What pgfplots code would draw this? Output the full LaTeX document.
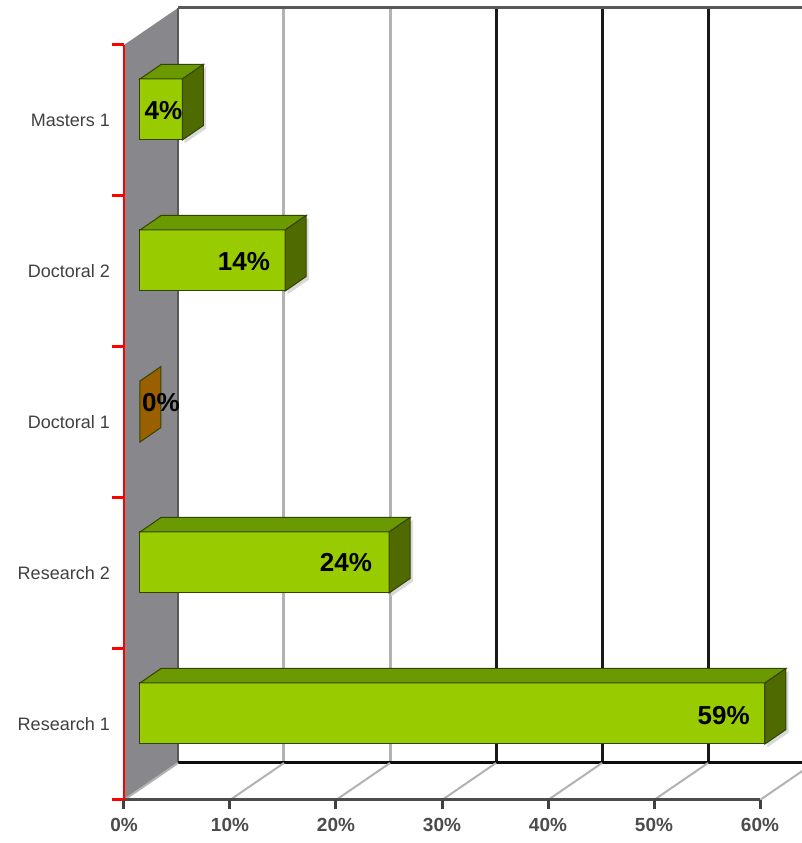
\documentclass[border=0pt]{standalone}
\usepackage{pgfplots}
\pgfplotsset{compat=1.18}
\usepackage{fontspec}
\setmainfont{Liberation Sans}
\definecolor{barfront}{HTML}{99CC00}
\definecolor{bartop}{HTML}{6B9900}
\definecolor{barside}{HTML}{4F6B00}
\definecolor{barline}{HTML}{334400}
\definecolor{barbrown}{HTML}{995F00}
\definecolor{wallgray}{HTML}{88878C}
\pgfdeclareplotmark{nothing}{}
% cuboid={value}{label dx}{label dy}{label}{type}
\pgfplotsset{
  cuboid/.style n args={5}{
    scatter, only marks, mark=nothing,
    scatter/@pre marker code/.code={%
      \pgfmathsetmacro\L{16-10.6*#1}%
      \pgfmathsetmacro\LB{\L+21}%
      \ifnum#5=0
        \fill[gray!30] (18.5pt,-22.5pt) -- (18.5pt,38.5pt) -- (39.5pt,53pt) -- (39.5pt,-8pt) -- cycle;
        \filldraw[fill=barfront, draw=barline, line width=1pt] (\L pt,-19.5pt) rectangle (16pt,41.5pt);
        \filldraw[fill=bartop, draw=barline, line width=1pt] (\L pt,41.5pt) -- (16pt,41.5pt) -- (37pt,56pt) -- (\LB pt,56pt) -- cycle;
        \filldraw[fill=barside, draw=barline, line width=1pt] (16pt,-19.5pt) -- (16pt,41.5pt) -- (37pt,56pt) -- (37pt,-5pt) -- cycle;
      \else
        \filldraw[fill=barbrown, draw=barline, line width=1pt] (16pt,-19.5pt) -- (16pt,41.5pt) -- (37pt,56pt) -- (37pt,-5pt) -- cycle;
      \fi
      \node[anchor=east, inner sep=0pt, font=\fontsize{26}{26}\selectfont\bfseries, text=black] at (#2pt,#3pt) {#4\%};
    },
    scatter/@post marker code/.code={},
  }
}
\begin{document}
\begin{tikzpicture}
\begin{axis}[
  x=10.6pt, y=151pt,
  xmin=0, xmax=60, ymin=0, ymax=5,
  clip=false,
  axis line style={draw=none},
  major tick length=0pt,
  xtick={0,10,20,30,40,50,60},
  xticklabels={0\%,10\%,20\%,30\%,40\%,50\%,60\%},
  ytick={0.5,1.5,2.5,3.5,4.5},
  yticklabels={Research 1,Research 2,Doctoral 1,Doctoral 2,Masters 1},
  xticklabel style={inner sep=0pt, yshift=-18pt, font=\fontsize{19}{20}\selectfont\bfseries, text=black!70},
  yticklabel style={inner sep=0pt, xshift=-14pt, font=\fontsize{18}{20}\selectfont, text=black!75},
]
% left wall
\fill[wallgray] (axis cs:0,0) -- (axis cs:0,5) -- ([xshift=54pt,yshift=37pt]axis cs:0,5) -- ([xshift=54pt,yshift=37pt]axis cs:0,0) -- cycle;
\draw[black!65, line width=2pt] ([xshift=54pt,yshift=37pt]axis cs:0,0) -- ([xshift=54pt,yshift=37pt]axis cs:0,5);
% back grid lines
\pgfplotsinvokeforeach{10,20}{
  \draw[gray!60, line width=3pt] ([xshift=54pt,yshift=37pt]axis cs:#1,0) -- ([xshift=54pt,yshift=37pt]axis cs:#1,5);
}
\pgfplotsinvokeforeach{30,40,50,60}{
  \draw[black!90, line width=3pt] ([xshift=54pt,yshift=37pt]axis cs:#1,0) -- ([xshift=54pt,yshift=37pt]axis cs:#1,5);
}
\draw[black!65, line width=3pt] ([xshift=54pt,yshift=37pt]axis cs:0,5) -- ([xshift=54pt,yshift=37pt]axis cs:60,5);
\draw[black!95, line width=3pt] ([xshift=54pt,yshift=37pt]axis cs:0,0) -- ([xshift=54pt,yshift=37pt]axis cs:60,0);
% floor diagonals
\pgfplotsinvokeforeach{0,10,20,30,40,50,60}{
  \draw[gray!60, line width=2pt] (axis cs:#1,0) -- ([xshift=54pt,yshift=37pt]axis cs:#1,0);
}
% front axis and ticks
\draw[black!70, line width=3pt] (axis cs:0,0) -- (axis cs:60,0);
\pgfplotsinvokeforeach{0,10,20,30,40,50,60}{
  \draw[black!75, line width=3pt] (axis cs:#1,0) -- ([yshift=-9pt]axis cs:#1,0);
}
\draw[red, line width=2pt] (axis cs:0,0) -- (axis cs:0,5);
\pgfplotsinvokeforeach{0,1,2,3,4,5}{
  \draw[red, line width=3pt] (axis cs:0,#1) -- ([xshift=-12pt]axis cs:0,#1);
}
% bars
\addplot[cuboid={58.96}{1}{8.5}{59}{0}] coordinates {(58.96,0.5)};
\addplot[cuboid={23.5}{-1}{10.5}{24}{0}] coordinates {(23.5,1.5)};
\addplot[cuboid={0}{56}{19.5}{0}{1}] coordinates {(0,2.5)};
\addplot[cuboid={13.7}{1}{9.5}{14}{0}] coordinates {(13.7,3.5)};
\addplot[cuboid={4}{16}{10}{4}{0}] coordinates {(4,4.5)};
\coordinate (bbl) at (axis cs:-11.698,-0.2848);
\coordinate (btr) at (axis cs:63.868,5.298);
\end{axis}
\pgfresetboundingbox
\path[use as bounding box] (bbl) rectangle (btr);
\end{tikzpicture}
\end{document}
